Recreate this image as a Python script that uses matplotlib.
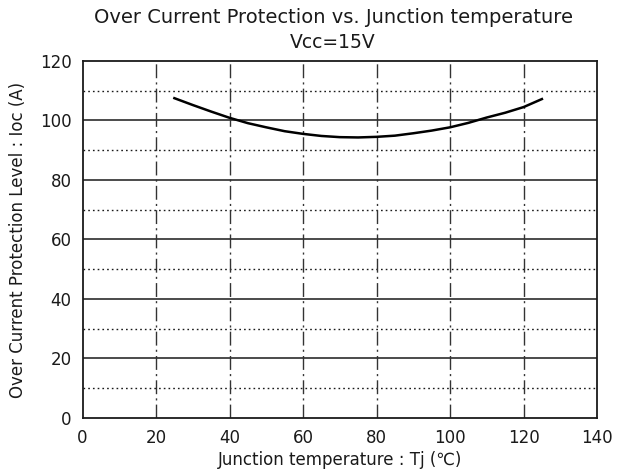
import matplotlib.pyplot as plt
import numpy as np

# Ioc vs Tj curve
tj = [25, 30, 35, 40, 45, 50, 55, 60, 65, 70, 75, 80, 85, 90, 95, 100, 105, 110, 115, 120, 125]
ioc = [107.5, 105.2, 103.0, 100.9, 99.1, 97.7, 96.4, 95.5, 94.8, 94.4, 94.3, 94.5, 94.9,
       95.7, 96.6, 97.7, 99.2, 101.0, 102.6, 104.5, 107.2]

x_ticks = [0, 20, 40, 60, 80, 100, 120, 140]
y_ticks = [0, 20, 40, 60, 80, 100, 120]
y_minor = [10, 30, 50, 70, 90, 110]

plt.rcParams['font.family'] = ['DejaVu Sans']
fig = plt.figure(figsize=(6.19, 4.72), dpi=100)
ax = fig.add_axes([0.1333, 0.1144, 0.8312, 0.7564])

ink = '#1a1a1a'
ax.set_xlim(0, 140)
ax.set_ylim(0, 120)
ax.set_xticks(x_ticks)
ax.set_yticks(y_ticks)
ax.tick_params(length=0, labelsize=12, colors=ink, pad=8)

# grid: solid majors horizontally, dotted minors, dash-dot verticals
for y in y_ticks[1:-1]:
    ax.axhline(y, color=ink, lw=1.1, zorder=1)
for y in y_minor:
    ax.axhline(y, color=ink, lw=1.0, ls=(0, (1.2, 2.2)), zorder=1)
for x in x_ticks[1:-1]:
    ax.axvline(x, color='#333333', lw=1.0, ls=(0, (10, 3, 1.5, 3)), zorder=1)

for s in ax.spines.values():
    s.set_linewidth(1.3)
    s.set_color(ink)

ax.plot(tj, ioc, color='black', lw=1.8, zorder=3)

ax.set_xlabel('Junction temperature : Tj (℃)', fontsize=12, color=ink, labelpad=3)
ax.set_ylabel('Over Current Protection Level : Ioc (A)', fontsize=12, color=ink, labelpad=9)
fig.text(0.538, 0.962, 'Over Current Protection vs. Junction temperature',
         ha='center', va='center', fontsize=14, color=ink)
fig.text(0.538, 0.91, 'Vcc=15V', ha='center', va='center', fontsize=13.5, color=ink)

plt.savefig('out.png', dpi=100)
